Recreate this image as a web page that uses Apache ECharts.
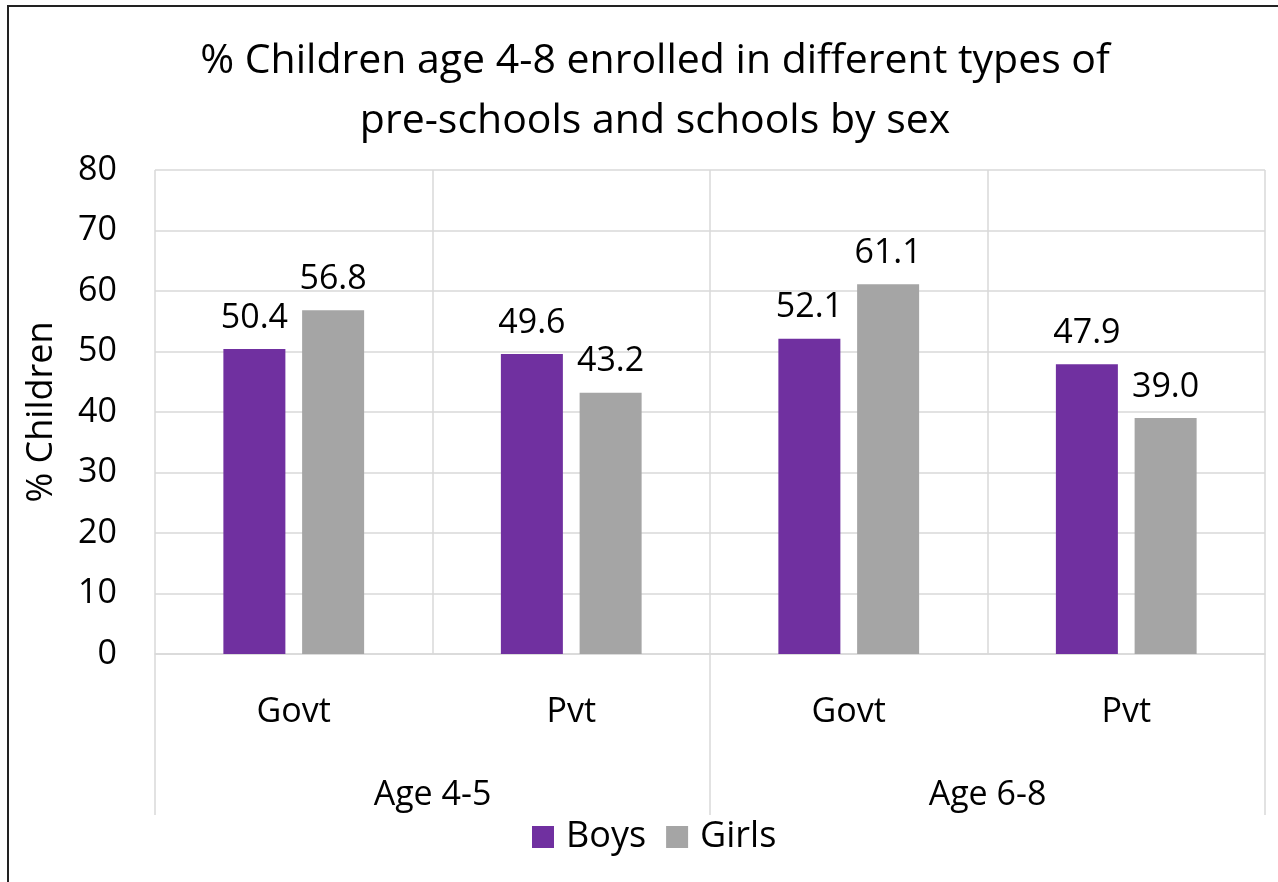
<!DOCTYPE html>
<html>
<head>
<meta charset="utf-8">
<script src="https://cdn.jsdelivr.net/npm/echarts@6/dist/echarts.min.js"></script>
<style>
html,body{margin:0;padding:0;background:#fff;}
#chart{position:absolute;left:0;top:0;width:1278px;height:882px;}
#frame{position:absolute;left:7px;top:5px;width:1400px;height:1000px;border-left:2px solid #222;border-top:2px solid #222;pointer-events:none;}
</style>
</head>
<body>
<div id="chart"></div>
<div id="frame"></div>
<script>
const titleText = '% Children age 4-8 enrolled in different types of\npre-schools and schools by sex';
const categories = ['Govt', 'Pvt', 'Govt', 'Pvt'];
const groups = ['Age 4-5', 'Age 6-8'];
const boys = [50.4, 49.6, 52.1, 47.9];
const girls = [56.8, 43.2, 61.1, 39.0];
const seriesNames = ['Boys', 'Girls'];
const yTicks = { min: 0, max: 80, interval: 10 };

const FONT = '"Open Sans", "Noto Sans", sans-serif';
const FS = 34;
const chart = echarts.init(document.getElementById('chart'));
const label = {
  show: true, position: 'top', distance: 14, fontSize: FS, color: '#000', fontFamily: FONT,
  formatter: p => p.value.toFixed(1)
};
chart.setOption({
  animation: false,
  textStyle: { fontFamily: FONT },
  title: {
    text: titleText, left: 650, top: 26, textAlign: 'center',
    textStyle: { fontSize: 41, fontWeight: 'normal', color: '#000', lineHeight: 60, fontFamily: FONT }
  },
  grid: { left: 155, right: 13, top: 170, bottom: 228, containLabel: false },
  legend: {
    data: seriesNames, bottom: 22, left: 527, icon: 'rect', itemWidth: 22, itemHeight: 22, itemGap: 20,
    textStyle: { fontSize: 36, color: '#000', fontFamily: FONT, padding: [0, 0, 0, 7] }
  },
  xAxis: [
    {
      type: 'category', data: categories, position: 'bottom',
      axisLine: { show: true, lineStyle: { color: '#d9d9d9', width: 1.5 } },
      axisTick: { show: false },
      splitLine: { show: true, interval: 0, lineStyle: { color: '#d9d9d9', width: 1.5 } },
      axisLabel: { fontSize: FS, color: '#000', margin: 41, interval: 0, fontFamily: FONT }
    },
    {
      type: 'category', data: groups, position: 'bottom',
      axisLine: { show: false },
      axisTick: { show: true, length: 161, interval: 0, lineStyle: { color: '#d9d9d9', width: 1.5 } },
      axisLabel: { fontSize: FS, color: '#000', margin: 124, interval: 0, fontFamily: FONT }
    }
  ],
  yAxis: {
    type: 'value', min: yTicks.min, max: yTicks.max, interval: yTicks.interval,
    name: '% Children', nameLocation: 'middle', nameGap: 95, nameRotate: 90,
    nameTextStyle: { fontSize: 36, color: '#000', fontFamily: FONT },
    axisLine: { show: false }, axisTick: { show: false },
    splitLine: { lineStyle: { color: '#d9d9d9', width: 1.5 } },
    axisLabel: { fontSize: FS, color: '#000', margin: 38, fontFamily: FONT }
  },
  series: [
    { name: seriesNames[0], type: 'bar', data: boys, barWidth: 62, barGap: '27%', itemStyle: { color: '#7030a0' }, label },
    { name: seriesNames[1], type: 'bar', data: girls, barWidth: 62, barGap: '27%', itemStyle: { color: '#a5a5a5' }, label }
  ]
});
</script>
</body>
</html>
